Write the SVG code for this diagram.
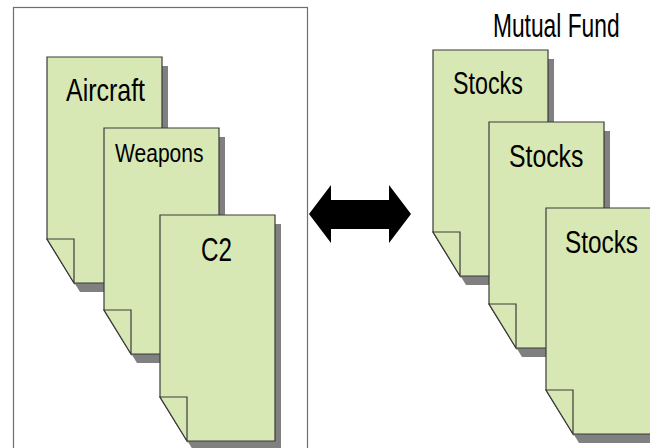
<svg xmlns="http://www.w3.org/2000/svg" width="650" height="448" viewBox="0 0 650 448">
  <style>
    .page { fill: #d8e8b4; stroke: #3a3a3a; stroke-width: 1.2; stroke-linejoin: miter; }
    .fold { fill: #d8e8b4; stroke: #3a3a3a; stroke-width: 1.2; }
    .shadow { fill: #808080; }
    .lbl { font-family: "Liberation Sans", Arial, sans-serif; fill: #000; }
    .frame { fill: #ffffff; stroke: #6e6e6e; stroke-width: 1.2; }
  </style>
  <defs>
    <path id="pg" d="M0,0 H115 V226 H27 L0,182 Z"/>
    <path id="fd" d="M0,182 H27 V226 Z"/>
  </defs>
  <rect width="650" height="448" fill="#ffffff"/>
  <g id="frame">
    <rect class="frame" x="13.5" y="7.5" width="294" height="460"/>
  </g>

  <g id="aircraft">
    <use href="#pg" class="shadow" x="53" y="66"/>
    <use href="#pg" class="page" x="47" y="57"/>
    <use href="#fd" class="fold" x="47" y="57"/>
    <text class="lbl" transform="translate(66,101) scale(0.78,1)" font-size="32">Aircraft</text>
  </g>
  <g id="weapons">
    <use href="#pg" class="shadow" x="110" y="137"/>
    <use href="#pg" class="page" x="104" y="128"/>
    <use href="#fd" class="fold" x="104" y="128"/>
    <text class="lbl" transform="translate(115,162) scale(0.81,1)" font-size="26">Weapons</text>
  </g>
  <g id="c2">
    <use href="#pg" class="shadow" x="166" y="224"/>
    <use href="#pg" class="page" x="160" y="215"/>
    <use href="#fd" class="fold" x="160" y="215"/>
    <text class="lbl" transform="translate(201,261) scale(0.735,1)" font-size="33">C2</text>
  </g>

  <g id="mutual-fund-title">
    <text class="lbl" transform="translate(493,37) scale(0.69,1)" font-size="33">Mutual Fund</text>
  </g>
  <g id="stocks1">
    <use href="#pg" class="shadow" x="439" y="59"/>
    <use href="#pg" class="page" x="433" y="50"/>
    <use href="#fd" class="fold" x="433" y="50"/>
    <text class="lbl" transform="translate(453,94) scale(0.75,1)" font-size="31">Stocks</text>
  </g>
  <g id="stocks2">
    <use href="#pg" class="shadow" x="495" y="131"/>
    <use href="#pg" class="page" x="489" y="122"/>
    <use href="#fd" class="fold" x="489" y="122"/>
    <text class="lbl" transform="translate(509,167) scale(0.8,1)" font-size="31">Stocks</text>
  </g>
  <g id="stocks3">
    <use href="#pg" class="shadow" x="552" y="217"/>
    <use href="#pg" class="page" x="546" y="208"/>
    <use href="#fd" class="fold" x="546" y="208"/>
    <text class="lbl" transform="translate(565,253) scale(0.785,1)" font-size="31">Stocks</text>
  </g>

  <g id="connectors">
    <polygon fill="#000000" points="309,214 331,185 331,200 389,200 389,185 411,214 389,243 389,229 331,229 331,243"/>
  </g>
</svg>
